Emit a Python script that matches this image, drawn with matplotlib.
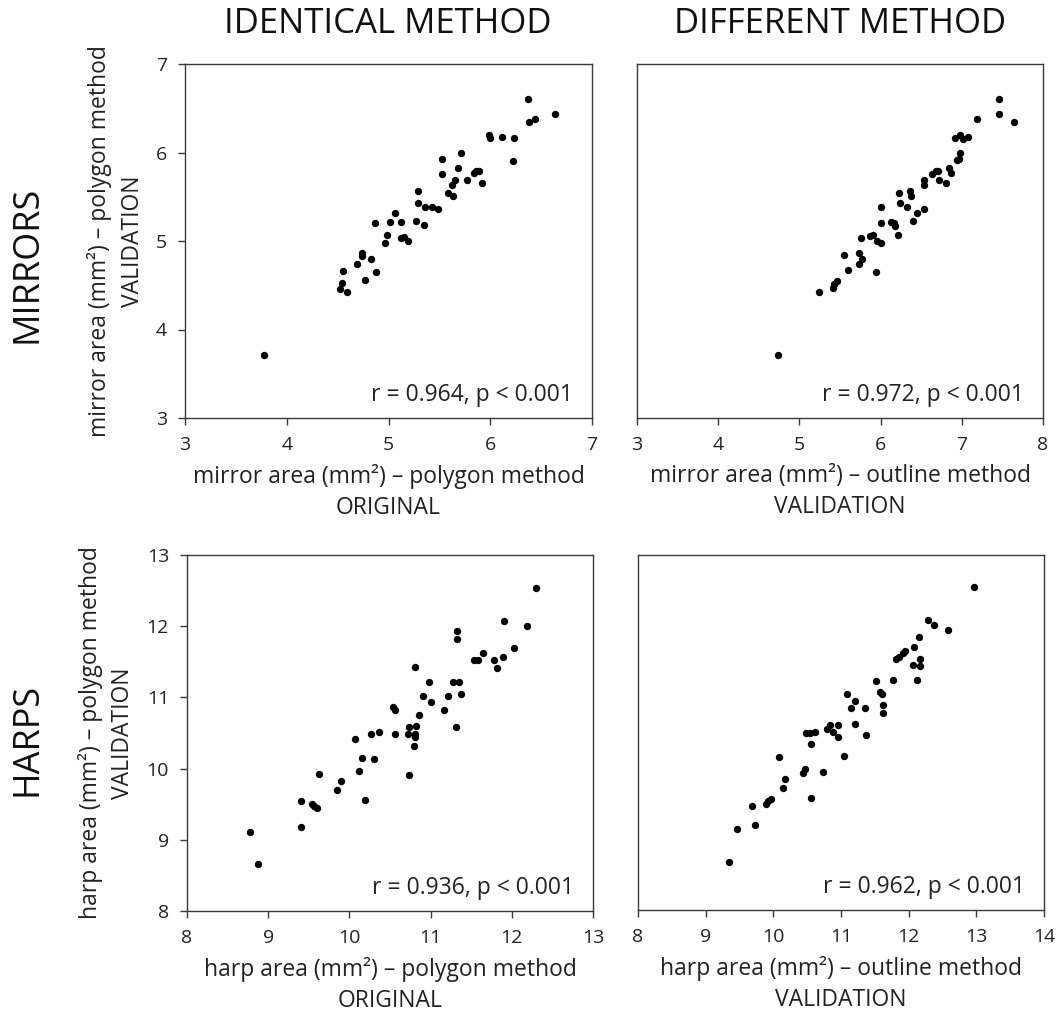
import numpy as np
import matplotlib.pyplot as plt

plt.rcParams['font.family'] = ['Open Sans', 'DejaVu Sans']

# mirrors: identical method (polygon original vs polygon validation)
mir_orig_x = [3.78, 4.52, 4.54, 4.55, 4.59, 4.69, 4.74, 4.74, 4.77, 4.83, 4.88, 4.87,
              4.97, 4.99, 5.01, 5.06, 5.12, 5.12, 5.15, 5.19, 5.27, 5.29, 5.29, 5.35,
              5.36, 5.43, 5.49, 5.53, 5.53, 5.58, 5.62, 5.63, 5.65, 5.68, 5.71, 5.77,
              5.84, 5.86, 5.89, 5.92, 5.99, 6.00, 6.12, 6.23, 6.22, 6.37, 6.38, 6.44,
              6.64]
mir_orig_y = [3.71, 4.46, 4.52, 4.66, 4.42, 4.74, 4.87, 4.83, 4.56, 4.80, 4.65, 5.20,
              4.98, 5.07, 5.21, 5.32, 5.22, 5.03, 5.05, 5.00, 5.23, 5.56, 5.43, 5.18,
              5.38, 5.38, 5.36, 5.93, 5.76, 5.54, 5.63, 5.51, 5.69, 5.82, 5.99, 5.69,
              5.77, 5.79, 5.79, 5.65, 6.20, 6.16, 6.18, 6.16, 5.90, 6.60, 6.35, 6.38,
              6.43]

# mirrors: different method (outline validation vs polygon validation)
mir_outl_x = [4.74, 5.24, 5.41, 5.43, 5.46, 5.55, 5.60, 5.73, 5.74, 5.77, 5.76, 5.87,
              5.91, 5.94, 5.96, 6.00, 6.00, 6.01, 6.13, 6.16, 6.18, 6.22, 6.23, 6.24,
              6.32, 6.36, 6.38, 6.40, 6.45, 6.53, 6.53, 6.54, 6.63, 6.68, 6.71, 6.72,
              6.80, 6.84, 6.87, 6.94, 6.96, 6.98, 6.92, 6.98, 7.01, 7.08, 7.19, 7.46,
              7.46, 7.64]
mir_outl_y = [3.71, 4.42, 4.47, 4.51, 4.55, 4.84, 4.67, 4.86, 4.74, 4.80, 5.03, 5.06,
              5.07, 4.65, 5.00, 4.98, 5.38, 5.20, 5.22, 5.20, 5.17, 5.07, 5.54, 5.43,
              5.38, 5.56, 5.51, 5.23, 5.32, 5.69, 5.63, 5.36, 5.76, 5.79, 5.79, 5.69,
              5.65, 5.82, 5.77, 5.91, 5.93, 5.99, 6.16, 6.20, 6.15, 6.18, 6.38, 6.60,
              6.43, 6.35]

# harps: identical method
harp_orig_x = [8.78, 8.87, 9.40, 9.40, 9.54, 9.57, 9.60, 9.62, 9.85, 9.90, 10.07, 10.12,
               10.16, 10.19, 10.27, 10.30, 10.36, 10.54, 10.56, 10.56, 10.72, 10.74,
               10.74, 10.79, 10.81, 10.81, 10.82, 10.81, 10.86, 10.91, 10.98, 11.01,
               11.17, 11.21, 11.28, 11.31, 11.33, 11.33, 11.35, 11.38, 11.53, 11.58,
               11.64, 11.78, 11.82, 11.89, 11.91, 12.03, 12.19, 12.30]
harp_orig_y = [9.11, 8.66, 9.54, 9.18, 9.50, 9.48, 9.45, 9.92, 9.70, 9.83, 10.42, 9.97,
               10.15, 9.56, 10.49, 10.13, 10.52, 10.87, 10.82, 10.49, 10.48, 10.58,
               9.91, 10.32, 10.44, 10.49, 10.60, 11.43, 10.75, 11.02, 11.22, 10.93,
               10.83, 11.02, 11.22, 10.59, 11.93, 11.82, 11.21, 11.05, 11.52, 11.52,
               11.63, 11.53, 11.41, 11.57, 12.07, 11.69, 12.00, 12.53]

# harps: different method
harp_outl_x = [9.34, 9.47, 9.69, 9.73, 9.89, 9.92, 9.96, 10.08, 10.14, 10.17, 10.44,
               10.47, 10.49, 10.54, 10.56, 10.56, 10.62, 10.73, 10.80, 10.84, 10.88,
               10.95, 10.95, 11.04, 11.09, 11.15, 11.20, 11.21, 11.35, 11.37, 11.52,
               11.57, 11.61, 11.62, 11.62, 11.77, 11.82, 11.86, 11.91, 11.95, 12.06,
               12.08, 12.12, 12.17, 12.17, 12.16, 12.28, 12.37, 12.58, 12.97]
harp_outl_y = [8.68, 9.14, 9.47, 9.20, 9.50, 9.54, 9.56, 10.15, 9.72, 9.85, 9.93,
               9.99, 10.50, 10.50, 10.34, 9.58, 10.51, 9.94, 10.55, 10.60, 10.51,
               10.61, 10.44, 10.17, 11.04, 10.84, 10.62, 10.95, 10.85, 10.47, 11.23,
               11.07, 11.04, 10.89, 10.77, 11.24, 11.53, 11.57, 11.62, 11.65, 11.45,
               11.71, 11.24, 11.54, 11.43, 11.84, 12.09, 12.02, 11.94, 12.55]

stats = ['r = 0.964, p < 0.001', 'r = 0.972, p < 0.001',
         'r = 0.936, p < 0.001', 'r = 0.962, p < 0.001']

W, H = 1056, 1014
fig = plt.figure(figsize=(W / 100, H / 100), dpi=100)


def box(l, t, r, b):
    return [l / W, 1 - b / H, (r - l) / W, (b - t) / H]


panels = [
    (box(185, 64, 592, 418), mir_orig_x, mir_orig_y, (3, 7), (3, 7),
     'mirror area (mm²) – polygon method\nORIGINAL', True),
    (box(637, 64, 1043, 418), mir_outl_x, mir_outl_y, (3, 8), (3, 7),
     'mirror area (mm²) – outline method\nVALIDATION', False),
    (box(187, 555, 593, 911), harp_orig_x, harp_orig_y, (8, 13), (8, 13),
     'harp area (mm²) – polygon method\nORIGINAL', True),
    (box(638, 555, 1044, 910), harp_outl_x, harp_outl_y, (8, 14), (8, 13),
     'harp area (mm²) – outline method\nVALIDATION', False),
]
ylabels = ['mirror area (mm²) – polygon method\nVALIDATION',
           'harp area (mm²) – polygon method\nVALIDATION']

for i, (pos, xs, ys, xl, yl, xlab, left) in enumerate(panels):
    ax = fig.add_axes(pos)
    ax.scatter(xs, ys, s=28, color='black', linewidths=0, zorder=3)
    ax.set_xlim(*xl)
    ax.set_ylim(*yl)
    ax.set_xticks(np.arange(xl[0], xl[1] + 1))
    ax.set_yticks(np.arange(yl[0], yl[1] + 1))
    for sp in ax.spines.values():
        sp.set_color('#3a3a3a')
        sp.set_linewidth(1.0)
    ax.tick_params(direction='out', length=5, width=1, color='#3a3a3a',
                   labelsize=14, labelcolor='#222222', pad=8)
    ax.set_xlabel(xlab, fontsize=16.5, color='#222222', labelpad=7, linespacing=1.4)
    if left:
        ax.set_ylabel(ylabels[i // 2], fontsize=16.5, color='#222222',
                      labelpad=8, linespacing=1.45)
    else:
        ax.tick_params(axis='y', left=False, labelleft=False)
    ax.text(0.953, 0.065, stats[i], transform=ax.transAxes, ha='right',
            va='center', fontsize=16.5, color='#222222')

fig.text(388 / W, 1 - 24 / H, 'IDENTICAL METHOD', ha='center', va='center',
         fontsize=25, color='#111111')
fig.text(840 / W, 1 - 24 / H, 'DIFFERENT METHOD', ha='center', va='center',
         fontsize=25, color='#111111')
fig.text(28 / W, 1 - 264 / H, 'MIRRORS', ha='center', va='center', rotation=90,
         fontsize=26, color='#111111')
fig.text(28 / W, 1 - 739 / H, 'HARPS', ha='center', va='center', rotation=90,
         fontsize=26, color='#111111')

fig.savefig('out.png', dpi=100)
